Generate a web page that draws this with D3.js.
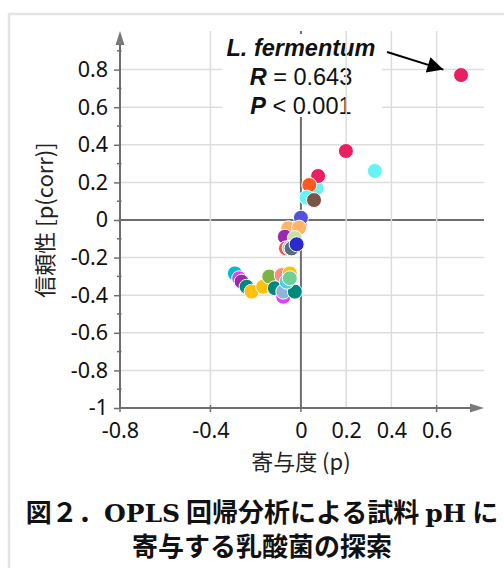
<!DOCTYPE html>
<html>
<head>
<meta charset="utf-8">
<script src="https://cdn.jsdelivr.net/npm/d3@7"></script>
<style>
  body { margin: 0; background: #fff; }
  svg { display: block; }
  .tick text { font-family: "Noto Sans", sans-serif; font-size: 21.5px; fill: #111; }
</style>
</head>
<body>
<svg id="chart" width="504" height="568"></svg>
<script>
// loading p (x) and p(corr) (y) per lactic acid bacterium
let pValues = [
    0.069, 0.708, 0.199, 0.327, 0.076, 0.037, 0.025, 0.058,
    -0.005, 0.0, -0.056, -0.008, -0.071, -0.027, -0.066, -0.05, -0.041, -0.019,
    -0.292, -0.273, -0.262, -0.24, -0.218, -0.167, -0.14, -0.115,
    -0.085, -0.049, -0.078, -0.078, -0.027, -0.063, -0.049
];
let pcorrValues = [
    0.169, 0.771, 0.367, 0.261, 0.234, 0.186, 0.119, 0.106,
    -0.03, 0.012, -0.044, -0.041, -0.089, -0.096, -0.151, -0.148, -0.151, -0.129,
    -0.284, -0.31, -0.328, -0.355, -0.381, -0.355, -0.301, -0.363,
    -0.293, -0.284, -0.408, -0.381, -0.381, -0.328, -0.31
];
// which colour group each point belongs to
let groups = [
    1, 0, 0, 1, 0, 2, 1, 3,
    4, 5, 6, 6, 7, 8, 9, 10, 11, 12,
    13, 14, 7, 15, 16, 16, 17, 15,
    18, 16, 14, 19, 15, 20, 21
];
let palette = ["#e91e63", "#67f3f3", "#ff5722", "#795548", "#673ab7", "#5353d9",
    "#ffb366", "#9c27b0", "#c5e1a5", "#ef5350", "#b0bec5", "#546e7a", "#2a2ad0",
    "#00bcd4", "#e040fb", "#00897b", "#ffc107", "#7cb342", "#ff8a80", "#8fb3d9",
    "#4dd0e1", "#6fcf97"];

let yTicks = [-1, -0.8, -0.6, -0.4, -0.2, 0, 0.2, 0.4, 0.6, 0.8];
let xTicks = [-0.8, -0.4, 0, 0.2, 0.4, 0.6];
let xGrid = [-0.4, 0.2, 0.4, 0.6];
let xTickMarks = [-0.8, -0.4, 0, 0.6];

let fmt = d => String(+d.toFixed(1));

let svg = d3.select("#chart");

let x = d3.scaleLinear().domain([-0.8, 0.6]).range([120, 436.6]);
let y = d3.scaleLinear().domain([-1, 0.8]).range([408, 69.6]);

// outer frame
svg.append("rect")
    .attr("x", 9).attr("y", 14)
    .attr("width", 530).attr("height", 600)
    .attr("fill", "none")
    .attr("stroke", "#e4e4e4")
    .attr("stroke-width", 2.5);

let yTop = 31, xRight = 484;

// horizontal grid
svg.append("g").selectAll("line")
    .data(yTicks.filter(d => d != 0 && d != -1))
    .enter().append("line")
    .attr("x1", x(-0.8)).attr("x2", xRight)
    .attr("y1", d => y(d)).attr("y2", d => y(d))
    .attr("stroke", "#dddddd")
    .attr("stroke-width", 1.5);

// zero lines
svg.append("line")
    .attr("x1", x(-0.8)).attr("x2", xRight)
    .attr("y1", y(0)).attr("y2", y(0))
    .attr("stroke", "#6e6e6e").attr("stroke-width", 2);
svg.append("line")
    .attr("x1", x(0)).attr("x2", x(0))
    .attr("y1", yTop).attr("y2", y(-1))
    .attr("stroke", "#6e6e6e").attr("stroke-width", 2);

// annotation box + text
let note = svg.append("g").attr("transform", `translate(${x(0)},0)`);
note.append("rect")
    .attr("x", -79).attr("y", 34)
    .attr("width", 160).attr("height", 83)
    .attr("fill", "#fff");

// vertical grid
svg.append("g").selectAll("line")
    .data(xGrid)
    .enter().append("line")
    .attr("x1", d => x(d)).attr("x2", d => x(d))
    .attr("y1", yTop).attr("y2", y(-1))
    .attr("stroke", "#dddddd")
    .attr("stroke-width", 1.5);

let nt = note.append("g")
    .style("font-family", "'Liberation Sans', Arial, sans-serif")
    .style("font-size", "23.5px")
    .attr("text-anchor", "middle")
    .attr("fill", "#111");
nt.append("text").attr("y", 56)
    .style("font-weight", "bold").style("font-style", "italic")
    .text("L. fermentum");
let r = nt.append("text").attr("y", 85);
r.append("tspan").style("font-weight", "bold").style("font-style", "italic").text("R");
r.append("tspan").text(" = 0.643");
let p = nt.append("text").attr("y", 114);
p.append("tspan").style("font-weight", "bold").style("font-style", "italic").text("P");
p.append("tspan").text(" < 0.001");

// arrow to L. fermentum
svg.append("defs").append("marker")
    .attr("id", "head")
    .attr("viewBox", "0 0 10 10")
    .attr("refX", 10).attr("refY", 5)
    .attr("markerUnits", "userSpaceOnUse")
    .attr("markerWidth", 22).attr("markerHeight", 16)
    .attr("orient", "auto")
    .append("path").attr("d", "M0,0 L10,5 L0,10 z").attr("fill", "#000");
svg.append("line")
    .attr("x1", x(0.381)).attr("y1", y(0.894))
    .attr("x2", x(0.63)).attr("y2", y(0.8))
    .attr("stroke", "#000").attr("stroke-width", 2)
    .attr("marker-end", "url(#head)");

// y axis
let yAxis = svg.append("g")
    .attr("transform", `translate(${x(-0.8)},0)`)
    .call(d3.axisLeft(y).tickValues(yTicks).tickFormat(fmt).tickSize(6).tickPadding(6));
yAxis.select(".domain").remove();
yAxis.selectAll(".tick line").attr("stroke", "#6e6e6e").attr("stroke-width", 1.5);
svg.append("g").selectAll("line")
    .data(d3.range(-9, 10, 2).map(d => d / 10))
    .enter().append("line")
    .attr("x1", x(-0.8) - 3).attr("x2", x(-0.8) + 1.5)
    .attr("y1", d => y(d)).attr("y2", d => y(d))
    .attr("stroke", "#6e6e6e").attr("stroke-width", 1.5);

// x axis
let xAxis = svg.append("g")
    .attr("transform", `translate(0,${y(-1)})`)
    .call(d3.axisBottom(x).tickValues(xTicks).tickFormat(fmt).tickSize(0).tickPadding(15));
xAxis.select(".domain").remove();
svg.append("g").selectAll("line")
    .data(xTickMarks)
    .enter().append("line")
    .attr("x1", d => x(d)).attr("x2", d => x(d))
    .attr("y1", y(-1) - 3).attr("y2", y(-1) + 4)
    .attr("stroke", "#6e6e6e").attr("stroke-width", 1.5);

svg.append("line")
    .attr("x1", x(-0.8)).attr("x2", x(-0.8))
    .attr("y1", yTop + 10).attr("y2", y(-1))
    .attr("stroke", "#6e6e6e").attr("stroke-width", 2);
svg.append("line")
    .attr("x1", x(-0.8)).attr("x2", xRight - 10)
    .attr("y1", y(-1)).attr("y2", y(-1))
    .attr("stroke", "#6e6e6e").attr("stroke-width", 2);
svg.append("path")
    .attr("d", `M${x(-0.8)},${yTop} l-4.5,14 h9 z`)
    .attr("fill", "#7a7a7a");
svg.append("path")
    .attr("d", `M${xRight},${y(-1)} l-14,-4.5 v9 z`)
    .attr("fill", "#7a7a7a");

// points
let data = pValues.map((d, i) => ({ p: d, corr: pcorrValues[i], g: groups[i] }));
svg.append("g").selectAll("circle")
    .data(data)
    .enter().append("circle")
    .attr("cx", d => x(d.p))
    .attr("cy", d => y(d.corr))
    .attr("r", 7.5)
    .attr("fill", d => palette[d.g])
    .attr("stroke", "#fff")
    .attr("stroke-width", 1);

// axis titles
svg.append("text")
    .attr("x", x(0)).attr("y", 470)
    .attr("text-anchor", "middle")
    .style("font-family", "'Noto Sans CJK JP', sans-serif")
    .style("font-size", "22px")
    .attr("fill", "#222")
    .text("寄与度 (p)");
svg.append("text")
    .attr("transform", `translate(53,${y(0)}) rotate(-90)`)
    .attr("text-anchor", "middle")
    .style("font-family", "'Noto Sans CJK JP', sans-serif")
    .style("font-size", "22px")
    .attr("fill", "#222")
    .text("信頼性 [p(corr)]");

// caption
let cap = svg.append("g")
    .attr("text-anchor", "middle")
    .style("font-family", "'Noto Sans CJK JP', sans-serif")
    .style("font-weight", "bold")
    .style("font-size", "26px")
    .attr("fill", "#111");
let l1 = cap.append("text").attr("x", 262).attr("y", 522);
l1.append("tspan").text("図２．");
l1.append("tspan").style("font-family", "'DejaVu Serif', serif").style("font-size", "25px").text("OPLS");
l1.append("tspan").text(" 回帰分析による試料 ");
l1.append("tspan").style("font-family", "'DejaVu Serif', serif").style("font-size", "25px").text("pH");
l1.append("tspan").text(" に");
cap.append("text").attr("x", 262).attr("y", 556).text("寄与する乳酸菌の探索");
</script>
</body>
</html>
